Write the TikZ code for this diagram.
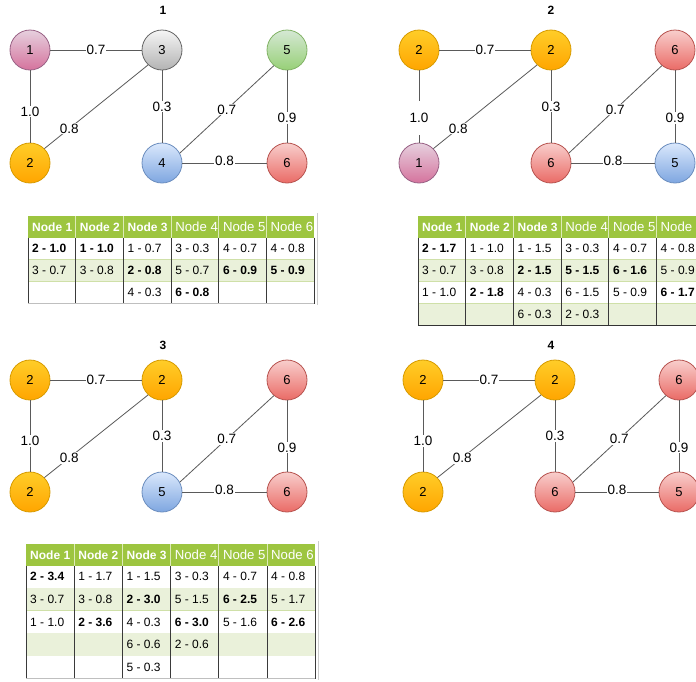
\documentclass[tikz,border=0pt]{standalone}
\usepackage{fontspec}
\setmainfont{Liberation Sans}
\definecolor{hdrc}{HTML}{9DC540}
\definecolor{rowc}{HTML}{EAF1DA}
\definecolor{hlinec}{HTML}{CFE0A8}
\definecolor{hsepc}{HTML}{DDEBB8}
\definecolor{vsepc}{HTML}{3A3A3A}
\definecolor{edgec}{HTML}{5A5A5A}
\newcommand\tfnt{\fontsize{12}{14}\selectfont}
\newcommand\gedges[2]{%
  \draw[ed] (#1A) -- node[el,pos=.5]{0.7} (#1C);
  \draw[ed] (#1A) -- node[el,#2]{1.0} (#1B);
  \draw[ed] (#1B.45) -- node[el,pos=.24]{0.8} (#1C.227);
  \draw[ed] (#1C) -- node[el,pos=.5]{0.3} (#1D);
  \draw[ed] (#1D.29) -- node[el,pos=.5]{0.7} (#1E.230);
  \draw[ed] (#1E) -- node[el,pos=.66]{0.9} (#1F);
  \draw[ed] (#1D) -- node[el,pos=.5,yshift=2pt]{0.8} (#1F);
}
\newcommand\tablebg[6]{% x, y, colw, rowh, nrows, bottom colour
  \begin{scope}[shift={(#1,#2)}]
    \fill[hdrc] (0,0) rectangle ({6*#3},21.5);
    \foreach \r in {1,...,#5}{
      \pgfmathsetmacro\ya{21.5+(\r-1)*#4}
      \pgfmathsetmacro\yb{21.5+\r*#4}
      \ifodd\r \fill[white] (0,\ya) rectangle ({6*#3},\yb);
      \else \fill[rowc] (0,\ya) rectangle ({6*#3},\yb); \fi
      \draw[hlinec, line width=0.8pt] (0,\yb) -- ({6*#3},\yb);
    }
    \foreach \c in {1,...,5} \draw[hsepc, line width=0.8pt] ({\c*#3},0) -- ({\c*#3},21.5);
    \foreach \c in {0,...,6} \draw[vsepc, line width=0.9pt] ({\c*#3},21.5) -- ({\c*#3},{21.5+#5*#4});
    \draw[#6, line width=1pt] (0,{21.5+#5*#4}) -- ({6*#3},{21.5+#5*#4});
    \draw[black!20, line width=0.8pt] ({6*#3+3},-3) -- ({6*#3+3},{21.5+#5*#4+1});
  \end{scope}
}
\begin{document}
\begin{tikzpicture}[x=1pt,y=-1pt,
  gn/.style={circle, minimum size=40pt, inner sep=0pt, line width=0.8pt,
    font=\fontsize{13}{15}\selectfont},
  pinkn/.style={gn, top color=pink1, bottom color=pink2, draw=pinkd},
  grayn/.style={gn, top color=gray1, bottom color=gray2, draw=grayd},
  greenn/.style={gn, top color=green1, bottom color=green2, draw=greend},
  bluen/.style={gn, top color=blue1, bottom color=blue2, draw=blued},
  redn/.style={gn, top color=red1, bottom color=red2, draw=redd},
  orangen/.style={gn, top color=orange1, bottom color=orange2, draw=oranged},
  ed/.style={draw=edgec, line width=0.8pt},
  el/.style={fill=white, inner sep=1pt, font=\fontsize{13.5}{15}\selectfont},
  ttl/.style={font=\bfseries\fontsize{12}{14}\selectfont},
  cellt/.style={anchor=west, inner sep=0pt, font=\tfnt},
  hb/.style={anchor=west, inner sep=0pt, text=white, font=\bfseries\fontsize{12}{14}\selectfont},
  hn/.style={anchor=west, inner sep=0pt, text=white, font=\fontsize{13.2}{15}\selectfont}
]
\definecolor{pink1}{HTML}{E6D0DE}\definecolor{pink2}{HTML}{D5739D}\definecolor{pinkd}{HTML}{996185}
\definecolor{gray1}{HTML}{F5F5F5}\definecolor{gray2}{HTML}{B3B3B3}\definecolor{grayd}{HTML}{666666}
\definecolor{green1}{HTML}{D5E8D4}\definecolor{green2}{HTML}{97D077}\definecolor{greend}{HTML}{82B366}
\definecolor{blue1}{HTML}{DAE8FC}\definecolor{blue2}{HTML}{7EA6E0}\definecolor{blued}{HTML}{6C8EBF}
\definecolor{red1}{HTML}{F8CECC}\definecolor{red2}{HTML}{EA6B66}\definecolor{redd}{HTML}{B85450}
\definecolor{orange1}{HTML}{FFCD28}\definecolor{orange2}{HTML}{FFA500}\definecolor{oranged}{HTML}{D79B00}
\useasboundingbox (0,0) rectangle (696,681);
\clip (0,0) rectangle (696,681);
\fill[white] (0,0) rectangle (696,681);

% ---------- graph 1 ----------
\node[ttl] (t1) at (163,10) {1};
\node[pinkn] (aA) at (30,50) {1};
\node[orangen] (aB) at (30,163) {2};
\node[grayn] (aC) at (162,50) {3};
\node[bluen] (aD) at (162,163) {4};
\node[greenn] (aE) at (287,50) {5};
\node[redn] (aF) at (287,163) {6};
\gedges{a}{pos=.57}

% ---------- graph 2 ----------
\node[ttl] (t2) at (551,10) {2};
\node[orangen] (bA) at (419,50) {2};
\node[pinkn] (bB) at (419,163) {1};
\node[orangen] (bC) at (551,50) {2};
\node[redn] (bD) at (551,163) {6};
\node[redn] (bE) at (675,50) {6};
\node[bluen] (bF) at (675,163) {5};
\gedges{b}{pos=.655, minimum height=34pt}

% ---------- graph 3 ----------
\node[ttl] (t3) at (163,345) {3};
\node[orangen] (cA) at (30,380) {2};
\node[orangen] (cB) at (30,492) {2};
\node[orangen] (cC) at (162,380) {2};
\node[bluen] (cD) at (162,492) {5};
\node[redn] (cE) at (287,380) {6};
\node[redn] (cF) at (287,492) {6};
\gedges{c}{pos=.57}

% ---------- graph 4 ----------
\node[ttl] (t4) at (551,345) {4};
\node[orangen] (dA) at (423,380) {2};
\node[orangen] (dB) at (423,492) {2};
\node[orangen] (dC) at (555,380) {2};
\node[redn] (dD) at (555,492) {6};
\node[redn] (dE) at (679,380) {6};
\node[redn] (dF) at (679,492) {5};
\gedges{d}{pos=.57}

% ---------- table 1 ----------
\tablebg{28}{216}{47.7}{22}{3}{black!25}
\begin{scope}[shift={(28,216)}]
  \foreach \c/\s/\t in {0/hb/Node 1,1/hb/Node 2,2/hb/Node 3,3/hn/Node 4,4/hn/Node 5,5/hn/Node 6}
    \node[\s] (pa-h\c) at ({\c*47.7+4},10.75) {\t};
  \foreach \c/\r/\t in {0/1/{\bfseries 2 - 1.0},1/1/{\bfseries 1 - 1.0},2/1/1 - 0.7,3/1/3 - 0.3,4/1/4 - 0.7,5/1/4 - 0.8,
      0/2/3 - 0.7,1/2/3 - 0.8,2/2/{\bfseries 2 - 0.8},3/2/5 - 0.7,4/2/{\bfseries 6 - 0.9},5/2/{\bfseries 5 - 0.9},
      2/3/4 - 0.3,3/3/{\bfseries 6 - 0.8}}
    \node[cellt] (pa-\c-\r) at ({\c*47.7+4},{21.5+(\r-0.5)*22}) {\t};
\end{scope}

% ---------- table 2 ----------
\tablebg{418}{216}{47.7}{22}{4}{black!80}
\begin{scope}[shift={(418,216)}]
  \foreach \c/\s/\t in {0/hb/Node 1,1/hb/Node 2,2/hb/Node 3,3/hn/Node 4,4/hn/Node 5,5/hn/Node 6}
    \node[\s] (pb-h\c) at ({\c*47.7+4},10.75) {\t};
  \foreach \c/\r/\t in {0/1/{\bfseries 2 - 1.7},1/1/1 - 1.0,2/1/1 - 1.5,3/1/3 - 0.3,4/1/4 - 0.7,5/1/4 - 0.8,
      0/2/3 - 0.7,1/2/3 - 0.8,2/2/{\bfseries 2 - 1.5},3/2/{\bfseries 5 - 1.5},4/2/{\bfseries 6 - 1.6},5/2/5 - 0.9,
      0/3/1 - 1.0,1/3/{\bfseries 2 - 1.8},2/3/4 - 0.3,3/3/6 - 1.5,4/3/5 - 0.9,5/3/{\bfseries 6 - 1.7},
      2/4/6 - 0.3,3/4/2 - 0.3}
    \node[cellt] (pb-\c-\r) at ({\c*47.7+4},{21.5+(\r-0.5)*22}) {\t};
\end{scope}

% ---------- table 3 ----------
\tablebg{26}{544}{48.2}{22.6}{5}{black!25}
\begin{scope}[shift={(26,544)}]
  \foreach \c/\s/\t in {0/hb/Node 1,1/hb/Node 2,2/hb/Node 3,3/hn/Node 4,4/hn/Node 5,5/hn/Node 6}
    \node[\s] (pc-h\c) at ({\c*48.2+4},10.75) {\t};
  \foreach \c/\r/\t in {0/1/{\bfseries 2 - 3.4},1/1/1 - 1.7,2/1/1 - 1.5,3/1/3 - 0.3,4/1/4 - 0.7,5/1/4 - 0.8,
      0/2/3 - 0.7,1/2/3 - 0.8,2/2/{\bfseries 2 - 3.0},3/2/5 - 1.5,4/2/{\bfseries 6 - 2.5},5/2/5 - 1.7,
      0/3/1 - 1.0,1/3/{\bfseries 2 - 3.6},2/3/4 - 0.3,3/3/{\bfseries 6 - 3.0},4/3/5 - 1.6,5/3/{\bfseries 6 - 2.6},
      2/4/6 - 0.6,3/4/2 - 0.6,
      2/5/5 - 0.3}
    \node[cellt] (pc-\c-\r) at ({\c*48.2+4},{21.5+(\r-0.5)*22.6}) {\t};
\end{scope}
\end{tikzpicture}
\end{document}
